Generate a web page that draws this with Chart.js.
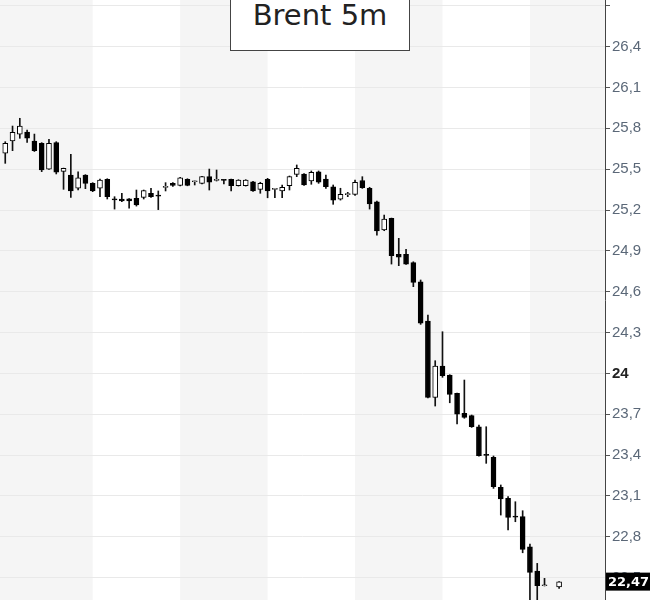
<!DOCTYPE html>
<html>
<head>
<meta charset="utf-8">
<script src="https://cdn.jsdelivr.net/npm/chart.js@4/dist/chart.umd.min.js"></script>
<style>
  html, body { margin: 0; padding: 0; background: #fff; overflow: hidden; }
  #wrap { position: relative; width: 650px; height: 600px; }
  #title {
    position: absolute; left: 230px; top: -6px; width: 178px; height: 55px;
    border: 1px solid #444; background: #fff; color: #222;
    font: 29px "DejaVu Sans", sans-serif; text-align: center; line-height: 40px;
  }
</style>
</head>
<body>
<div id="wrap">
  <canvas id="chart"></canvas>
  <div id="title">Brent 5m</div>
</div>
<script>
// Velas de 5 minutos (una por posición, null = sin cotización)
const opens = [
  25.617, 25.707, 25.758, 25.773, 25.707, 25.690, 25.501, 25.695, 25.484, 25.457,
  25.360, 25.457, 25.396, 25.360, 25.426, 25.279, 25.281, 25.283, 25.286, 25.293,
  25.323, 25.304, 25.366, 25.396, 25.381, 25.426, 25.408, 25.396, 25.445, 25.418,
  25.422, 25.426, 25.379, 25.379, 25.408, 25.352, 25.426, 25.352, 25.340, 25.379,
  25.462, 25.465, 25.413, 25.481, 25.428, 25.371, 25.279, 25.313, 25.315, 25.417,
  25.360, 25.261, 25.053, 25.139, 24.875, 24.875, 24.813, 24.673, 24.384, 23.824,
  24.054, 23.988, 23.853, 23.706, 23.689, 23.608, 23.400, 23.383, 23.163, 23.082,
  22.947, 22.947, 22.726, 22.548, 22.440, null, 22.432
];
const highs = [
  25.702, 25.817, 25.874, 25.788, 25.758, 25.695, 25.720, 25.702, 25.508, 25.609,
  25.481, 25.460, 25.401, 25.428, 25.430, 25.298, 25.323, 25.285, 25.347, 25.347,
  25.360, 25.340, 25.401, 25.401, 25.440, 25.430, 25.413, 25.447, 25.501, 25.494,
  25.423, 25.428, 25.423, 25.423, 25.410, 25.404, 25.433, 25.358, 25.384, 25.450,
  25.531, 25.468, 25.487, 25.487, 25.457, 25.384, 25.360, 25.330, 25.420, 25.445,
  25.367, 25.266, 25.163, 25.141, 24.992, 24.911, 24.820, 24.686, 24.429, 24.093,
  24.306, 23.990, 23.856, 23.951, 23.694, 23.620, 23.608, 23.393, 23.180, 23.094,
  23.057, 22.991, 22.746, 22.604, 22.494, null, 22.471
];
const lows = [
  25.543, 25.636, 25.727, 25.697, 25.630, 25.482, 25.498, 25.465, 25.352, 25.293,
  25.347, 25.357, 25.335, 25.298, 25.281, 25.207, 25.261, 25.213, 25.229, 25.281,
  25.293, 25.203, 25.340, 25.373, 25.378, 25.378, 25.384, 25.392, 25.347, 25.413,
  25.391, 25.340, 25.376, 25.376, 25.337, 25.323, 25.290, 25.290, 25.290, 25.347,
  25.445, 25.381, 25.389, 25.396, 25.359, 25.242, 25.273, 25.298, 25.307, 25.359,
  25.207, 25.016, 25.048, 24.803, 24.791, 24.800, 24.637, 24.360, 23.820, 23.760,
  23.971, 23.784, 23.628, 23.670, 23.603, 23.392, 23.339, 23.155, 22.959, 22.849,
  22.910, 22.682, 22.300, 22.300, 22.438, null, 22.420
];
const closes = [
  25.690, 25.771, 25.817, 25.727, 25.636, 25.494, 25.690, 25.479, 25.506, 25.340,
  25.437, 25.396, 25.340, 25.420, 25.298, 25.275, 25.266, 25.266, 25.237, 25.342,
  25.298, 25.302, 25.372, 25.380, 25.437, 25.381, 25.412, 25.445, 25.404, 25.422,
  25.418, 25.379, 25.420, 25.420, 25.340, 25.396, 25.340, 25.356, 25.367, 25.445,
  25.506, 25.384, 25.477, 25.404, 25.371, 25.273, 25.315, 25.317, 25.404, 25.364,
  25.244, 25.046, 25.134, 24.864, 24.853, 24.803, 24.669, 24.368, 23.824, 24.054,
  23.983, 23.846, 23.701, 23.677, 23.608, 23.395, 23.397, 23.167, 23.077, 22.942,
  22.944, 22.707, 22.538, 22.440, 22.443, null, 22.469
];

// Inicio de cada hora (posición de vela); las franjas grises alternan
const hourMarks = [0, 12, 24, 36, 48, 60, 72, 84];
const lastPrice = 22.47;

const FONT = '"Liberation Sans", Arial, sans-serif';

// ─── Datos para Chart.js ─────────────────────────────────────────────────────
const bodies = [], wicks = [];
opens.forEach((o, i) => {
  if (o === null) return;
  const up = closes[i] >= o;
  bodies.push({ x: i, y: [o, closes[i]], up });
  wicks.push({ x: i, y: [lows[i], highs[i]] });
});

const isWhole = v => Number.isInteger(Math.round(v * 10) / 10);
const fmt = (v, d = 1) => {
  const r = Math.round(v * 10) / 10;
  return Number.isInteger(r) && d === 1 ? String(r) : v.toFixed(d).replace('.', ',');
};

// Franjas horarias de fondo (la primera llega hasta el borde izquierdo)
const hourBands = {
  id: 'hourBands',
  beforeDraw(chart) {
    const { ctx, chartArea: a, scales: { x } } = chart;
    ctx.save();
    ctx.fillStyle = '#fff';
    ctx.fillRect(0, 0, chart.width, chart.height);
    ctx.fillStyle = '#f5f5f5';
    for (let k = 0; k < hourMarks.length - 1; k += 2) {
      const x1 = k === 0 ? a.left : Math.max(a.left, x.getPixelForValue(hourMarks[k]));
      const x2 = Math.min(a.right, x.getPixelForValue(hourMarks[k + 1]));
      if (x2 > x1) ctx.fillRect(x1, a.top, x2 - x1, a.bottom - a.top);
    }
    ctx.restore();
  }
};

// Etiqueta negra con el último precio
const priceTag = {
  id: 'priceTag',
  afterDraw(chart) {
    const { ctx, chartArea: a, scales: { y } } = chart;
    const py = y.getPixelForValue(lastPrice);
    ctx.save();
    ctx.fillStyle = '#000';
    ctx.fillRect(a.right + 1, py - 9, chart.width - a.right - 1, 18);
    ctx.fillStyle = '#fff';
    ctx.font = 'bold 13px "DejaVu Sans", sans-serif';
    ctx.textBaseline = 'middle';
    ctx.fillText(fmt(lastPrice, 2), a.right + 3, py + 1);
    ctx.restore();
  }
};

new Chart(document.getElementById('chart'), {
  type: 'bar',
  data: {
    datasets: [
      {
        label: 'Cuerpo',
        data: bodies,
        order: 1,
        grouped: false,
        barThickness: 5,
        minBarLength: 1,
        borderWidth: 1,
        borderSkipped: false,
        borderColor: '#000',
        backgroundColor: ctx => (ctx.raw && ctx.raw.up ? '#fff' : '#000'),
      },
      {
        label: 'Mecha',
        data: wicks,
        order: 2,
        grouped: false,
        barThickness: 1,
        borderWidth: 0,
        backgroundColor: '#111',
      },
    ],
  },
  options: {
    responsive: true,
    maintainAspectRatio: false,
    animation: false,
    layout: { padding: 0 },
    plugins: { legend: { display: false }, tooltip: { enabled: false } },
    scales: {
      x: {
        type: 'linear',
        display: false,
        offset: false,
        min: -0.72,
        max: 82.3,
      },
      y: {
        position: 'right',
        min: 22.335,
        max: 26.743,
        afterFit(scale) {
          scale.width = 45;
          scale.paddingTop = 0;
          scale.paddingBottom = 0;
        },
        border: { display: true, color: '#444', width: 1 },
        grid: { color: '#e9e9e9', tickColor: '#555', tickLength: 5 },
        ticks: {
          stepSize: 0.3,
          includeBounds: false,
          padding: 2,
          // la marca superior queda cortada en el original: sin texto
          callback: v => (v > 26.6 ? '' : fmt(v)),
          color: c => (c.tick && isWhole(c.tick.value) ? '#222' : '#5b6878'),
          font: c => ({
            family: FONT,
            size: 15,
            weight: c.tick && isWhole(c.tick.value) ? 'bold' : 'normal',
          }),
        },
      },
    },
  },
  plugins: [hourBands, priceTag],
});
</script>
</body>
</html>
